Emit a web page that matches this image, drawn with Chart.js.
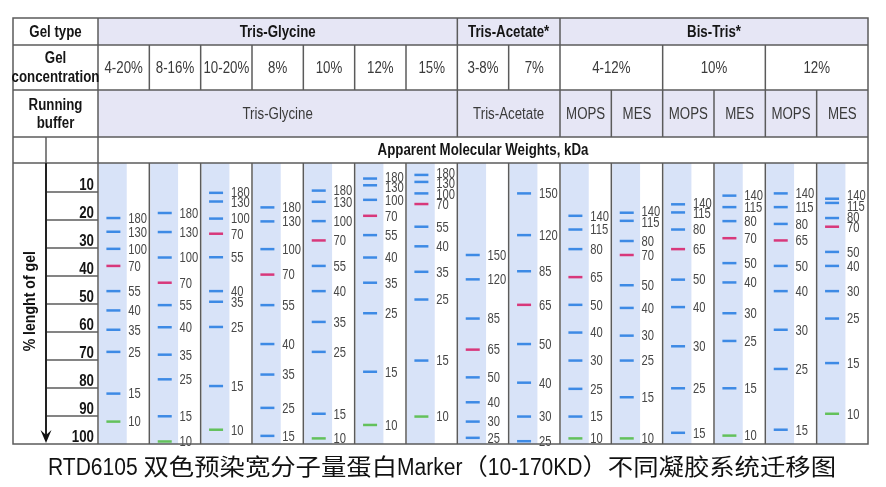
<!DOCTYPE html>
<html>
<head>
<meta charset="utf-8">
<script src="https://cdn.jsdelivr.net/npm/chart.js@4"></script>
<style>
  html, body { margin: 0; padding: 0; background: #fff; }
  canvas { display: block; }
</style>
</head>
<body>
<canvas id="gelChart" width="886" height="487"></canvas>
<script>
// header rows
const gelTypes = ['Tris-Glycine', 'Tris-Acetate*', 'Bis-Tris*'];
const gelTypeSpans = [7, 2, 6];
const concentrations = ['4-20%', '8-16%', '10-20%', '8%', '10%', '12%', '15%', '3-8%', '7%', '4-12%', '10%', '12%'];
const concentrationSpans = [1, 1, 1, 1, 1, 1, 1, 1, 1, 2, 2, 2];
const buffers = ['Tris-Glycine', 'Tris-Acetate', 'MOPS', 'MES', 'MOPS', 'MES', 'MOPS', 'MES'];
const bufferSpans = [7, 2, 1, 1, 1, 1, 1, 1];
const tickLabels = [10, 20, 30, 40, 50, 60, 70, 80, 90, 100];

// marker bands per lane: kDa and % length of gel
const bandKDa = [
  [180, 130, 100, 70, 55, 40, 35, 25, 15, 10],
  [180, 130, 100, 70, 55, 40, 35, 25, 15, 10],
  [180, 130, 100, 70, 55, 40, 35, 25, 15, 10],
  [180, 130, 100, 70, 55, 40, 35, 25, 15],
  [180, 130, 100, 70, 55, 40, 35, 25, 15, 10],
  [180, 130, 100, 70, 55, 40, 35, 25, 15, 10],
  [180, 130, 100, 70, 55, 40, 35, 25, 15, 10],
  [150, 120, 85, 65, 50, 40, 30, 25],
  [150, 120, 85, 65, 50, 40, 30, 25],
  [140, 115, 80, 65, 50, 40, 30, 25, 15, 10],
  [140, 115, 80, 70, 50, 40, 30, 25, 15, 10],
  [140, 115, 80, 65, 50, 40, 30, 25, 15],
  [140, 115, 80, 70, 50, 40, 30, 25, 15, 10],
  [140, 115, 80, 65, 50, 40, 30, 25, 15],
  [140, 115, 80, 70, 50, 40, 30, 25, 15, 10]
];
const bandPos = [
  [19.3, 24.2, 30.3, 36.4, 45.4, 52.3, 59.2, 67.1, 82.0, 92.0],
  [17.5, 24.3, 33.4, 42.4, 50.4, 58.3, 68.1, 76.9, 90.1, 99.1],
  [10.3, 13.4, 19.5, 24.9, 33.3, 45.4, 49.2, 58.2, 79.3, 94.9],
  [15.5, 20.5, 30.4, 39.5, 50.4, 64.3, 75.2, 87.1, 97.1],
  [9.5, 13.5, 20.4, 27.3, 36.4, 45.4, 56.4, 67.1, 89.2, 98.0],
  [5.2, 7.6, 12.8, 18.5, 25.4, 33.4, 42.4, 53.3, 74.2, 93.2],
  [3.9, 6.4, 10.5, 14.3, 22.4, 29.4, 38.5, 48.4, 70.2, 90.2],
  [32.5, 41.2, 55.2, 66.3, 76.2, 85.1, 92.0, 97.8],
  [10.5, 25.4, 38.3, 50.3, 64.3, 78.1, 90.2, 99.0],
  [18.5, 23.4, 30.4, 40.4, 50.3, 60.2, 70.2, 80.3, 90.2, 98.0],
  [17.4, 20.3, 27.5, 32.5, 43.3, 51.4, 61.3, 70.2, 83.3, 98.0],
  [14.4, 17.3, 23.4, 30.4, 41.3, 51.1, 65.1, 80.1, 96.0],
  [11.3, 15.4, 20.4, 26.5, 35.4, 42.3, 53.3, 63.2, 80.1, 97.0],
  [10.5, 15.4, 21.4, 27.3, 36.4, 45.4, 59.2, 73.2, 94.9],
  [12.4, 13.9, 19.3, 22.4, 31.4, 36.4, 45.4, 55.2, 71.1, 89.2]
];
const caption = 'RTD6105 双色预染宽分子量蛋白Marker（10-170KD）不同凝胶系统迁移图';

const SANS = '"Liberation Sans", Arial, sans-serif';
const SQUEEZE = 0.83;   // fake condensed face
const LINE = '#5b5b5b';
const HEAD_FILL = '#e6e6f5';
const LANE_FILL = '#d8e3f8';
const TABLE_LEFT = 13;
const SPLIT_X = 46;
const ROW_Y = [18, 45, 90, 137, 163];

function bandColor(k) {
  if (k === 10) return '#63c15b';
  if (k === 70 || k === 65) return '#d8387b';
  return '#3d8ae5';
}

function line(ctx, x1, y1, x2, y2) {
  ctx.beginPath();
  ctx.moveTo(x1, y1);
  ctx.lineTo(x2, y2);
  ctx.stroke();
}

function narrowText(ctx, txt, px, py, k = SQUEEZE) {
  ctx.save();
  ctx.translate(px, py);
  ctx.scale(k, 1);
  ctx.fillText(txt, 0, 0);
  ctx.restore();
}

// one header row: cells spanning several lanes, with separators
function spanRow(ctx, x, labels, spans, y1, y2, font, color) {
  let start = 0;
  ctx.font = font;
  ctx.fillStyle = color;
  ctx.textAlign = 'center';
  ctx.textBaseline = 'middle';
  labels.forEach((txt, i) => {
    const l = x.getPixelForValue(start), r = x.getPixelForValue(start + spans[i]);
    narrowText(ctx, txt, (l + r) / 2, (y1 + y2) / 2 + 1);
    if (start > 0) line(ctx, l, y1, l, y2);
    start += spans[i];
  });
}

function spreadLabels(ys, gap) {
  const out = ys.slice();
  for (let it = 0; it < 60; it++) {
    for (let k = 1; k < out.length; k++) {
      const d = out[k] - out[k - 1];
      if (d < gap) {
        const s = (gap - d) / 2;
        out[k - 1] -= s;
        out[k] += s;
      }
    }
  }
  return out;
}

// caption: latin runs condensed, CJK runs normal, whole line fitted to width
function drawCaption(ctx, txt, cx, baseY, width) {
  const runs = txt.match(/[\u3000-\u9fff\uff00-\uffef]+|[^\u3000-\u9fff\uff00-\uffef]+/g);
  ctx.font = '23px ' + SANS.replace('sans-serif', '"Noto Sans CJK SC", sans-serif');
  const parts = runs.map(r => {
    const cjk = /[\u3000-\u9fff\uff00-\uffef]/.test(r);
    const k = cjk ? 1 : SQUEEZE;
    return { r, k, w: ctx.measureText(r).width * k };
  });
  const total = parts.reduce((s, p) => s + p.w, 0);
  const fit = width / total;
  ctx.textAlign = 'left';
  ctx.textBaseline = 'alphabetic';
  let px = cx - width / 2;
  parts.forEach(p => {
    narrowText(ctx, p.r, px, baseY, p.k * fit);
    px += p.w * fit;
  });
}

const gelTable = {
  id: 'gelTable',
  beforeDatasetsDraw(chart) {
    const { ctx, chartArea: a, scales: { x } } = chart;
    ctx.save();
    ctx.fillStyle = '#fff';
    ctx.fillRect(0, 0, chart.width, chart.height);
    ctx.fillStyle = HEAD_FILL;
    ctx.fillRect(a.left, ROW_Y[0], a.right - a.left, ROW_Y[1] - ROW_Y[0]);
    ctx.fillRect(a.left, ROW_Y[2], a.right - a.left, ROW_Y[3] - ROW_Y[2]);
    ctx.fillStyle = LANE_FILL;
    for (let i = 0; i < bandKDa.length; i++) {
      const l = x.getPixelForValue(i) + 1, r = x.getPixelForValue(i + 0.56);
      ctx.fillRect(l, ROW_Y[4], r - l, a.bottom - ROW_Y[4]);
    }
    ctx.restore();
  },
  afterDatasetsDraw(chart) {
    const { ctx, chartArea: a, scales: { x, y } } = chart;
    ctx.save();

    // kDa labels beside bands
    ctx.font = '14px ' + SANS;
    ctx.fillStyle = '#474747';
    ctx.textAlign = 'left';
    ctx.textBaseline = 'middle';
    bandKDa.forEach((lane, i) => {
      const ys = spreadLabels(bandPos[i].map(p => y.getPixelForValue(p)), 10.5);
      const tx = x.getPixelForValue(i + 0.59);
      lane.forEach((k, j) => narrowText(ctx, String(k), tx, ys[j] + 1, 0.8));
    });

    // table lines
    ctx.strokeStyle = LINE;
    ctx.lineWidth = 1.5;
    ctx.strokeRect(TABLE_LEFT, ROW_Y[0], a.right - TABLE_LEFT, a.bottom - ROW_Y[0]);
    for (let r = 1; r < ROW_Y.length; r++) line(ctx, TABLE_LEFT, ROW_Y[r], a.right, ROW_Y[r]);
    line(ctx, a.left, ROW_Y[0], a.left, a.bottom);
    for (let i = 1; i < bandKDa.length; i++) {
      const px = x.getPixelForValue(i);
      line(ctx, px, ROW_Y[4], px, a.bottom);
    }

    // header texts
    const boldHead = 'bold 16px ' + SANS;
    spanRow(ctx, x, gelTypes, gelTypeSpans, ROW_Y[0], ROW_Y[1], boldHead, '#151515');
    spanRow(ctx, x, concentrations, concentrationSpans, ROW_Y[1], ROW_Y[2], '16px ' + SANS, '#3a3a3a');
    spanRow(ctx, x, buffers, bufferSpans, ROW_Y[2], ROW_Y[3], '16px ' + SANS, '#3a3a3a');

    const cx = (TABLE_LEFT + a.left) / 2;
    ctx.font = boldHead;
    ctx.fillStyle = '#151515';
    ctx.textAlign = 'center';
    ctx.textBaseline = 'middle';
    narrowText(ctx, 'Gel type', cx, (ROW_Y[0] + ROW_Y[1]) / 2 + 1);
    narrowText(ctx, 'Gel', cx, 59);
    narrowText(ctx, 'concentration', cx, 78);
    narrowText(ctx, 'Running', cx, 106);
    narrowText(ctx, 'buffer', cx, 124);
    narrowText(ctx, 'Apparent Molecular Weights, kDa', (a.left + a.right) / 2, (ROW_Y[3] + ROW_Y[4]) / 2 + 1);

    // left axis: % length of gel
    line(ctx, SPLIT_X, ROW_Y[3], SPLIT_X, ROW_Y[4]);
    ctx.textAlign = 'right';
    ctx.textBaseline = 'alphabetic';
    tickLabels.forEach(v => {
      const py = y.getPixelForValue(v);
      if (v < 100) line(ctx, SPLIT_X, py, a.left, py);
      narrowText(ctx, String(v), a.left - 4, py - 2);
    });
    ctx.lineWidth = 2;
    ctx.strokeStyle = '#222';
    line(ctx, SPLIT_X, ROW_Y[4], SPLIT_X, a.bottom - 8);
    ctx.fillStyle = '#111';
    ctx.beginPath();
    ctx.moveTo(SPLIT_X - 5.5, a.bottom - 14);
    ctx.lineTo(SPLIT_X, a.bottom - 9);
    ctx.lineTo(SPLIT_X + 5.5, a.bottom - 14);
    ctx.lineTo(SPLIT_X, a.bottom - 1);
    ctx.closePath();
    ctx.fill();

    ctx.save();
    ctx.translate(30, y.getPixelForValue(49));
    ctx.rotate(-Math.PI / 2);
    ctx.textAlign = 'center';
    ctx.textBaseline = 'middle';
    ctx.font = 'bold 17px ' + SANS;
    narrowText(ctx, '% lenght of gel', 0, 0);
    ctx.restore();

    // caption
    ctx.fillStyle = '#111';
    drawCaption(ctx, caption, 442, 475, 788);

    ctx.restore();
  }
};

const datasets = bandKDa.map((lane, i) => {
  const colors = lane.map(bandColor);
  return {
    label: 'lane ' + (i + 1),
    data: bandPos[i].map(p => ({ x: i + 0.3, y: p })),
    showLine: false,
    pointStyle: 'line',
    pointRadius: 7,
    pointHoverRadius: 7,
    pointBorderWidth: 2.5,
    pointBorderColor: colors,
    pointBackgroundColor: colors
  };
});

new Chart(document.getElementById('gelChart'), {
  type: 'scatter',
  data: { datasets },
  options: {
    responsive: false,
    animation: false,
    events: [],
    layout: { padding: { left: 98, right: 18, top: 164, bottom: 43 } },
    plugins: { legend: { display: false }, tooltip: { enabled: false } },
    scales: {
      x: { type: 'linear', min: 0, max: 15, display: false },
      y: { type: 'linear', min: 0, max: 100, reverse: true, display: false }
    }
  },
  plugins: [gelTable]
});
</script>
</body>
</html>
